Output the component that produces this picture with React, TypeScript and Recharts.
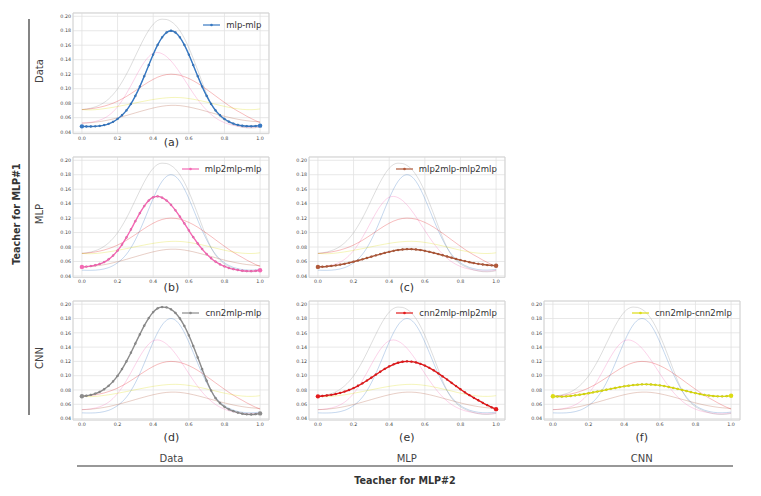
import { LineChart, Line, XAxis, YAxis, CartesianGrid, ReferenceArea } from 'recharts';

const X = [0, 0.025, 0.05, 0.075, 0.1, 0.125, 0.15, 0.175, 0.2, 0.225, 0.25, 0.275, 0.3, 0.325, 0.35, 0.375, 0.4, 0.425, 0.45, 0.475, 0.5, 0.525, 0.55, 0.575, 0.6, 0.625, 0.65, 0.675, 0.7, 0.725, 0.75, 0.775, 0.8, 0.825, 0.85, 0.875, 0.9, 0.925, 0.95, 0.975, 1];

const mlpMlp = [0.0480, 0.0478, 0.0478, 0.0480, 0.0486, 0.0497, 0.0515, 0.0543, 0.0582, 0.0633, 0.0700, 0.0789, 0.0900, 0.1029, 0.1173, 0.1324, 0.1471, 0.1604, 0.1709, 0.1776, 0.1800, 0.1776, 0.1709, 0.1604, 0.1471, 0.1324, 0.1173, 0.1029, 0.0900, 0.0789, 0.0700, 0.0633, 0.0582, 0.0545, 0.0518, 0.0500, 0.0488, 0.0482, 0.0481, 0.0484, 0.0490];
const mlp2mlpMlp = [0.0525, 0.0529, 0.0536, 0.0548, 0.0566, 0.0592, 0.0630, 0.0682, 0.0750, 0.0834, 0.0933, 0.1042, 0.1157, 0.1268, 0.1366, 0.1442, 0.1488, 0.1500, 0.1483, 0.1443, 0.1383, 0.1307, 0.1220, 0.1126, 0.1030, 0.0936, 0.0849, 0.0771, 0.0702, 0.0645, 0.0597, 0.0560, 0.0531, 0.0509, 0.0494, 0.0482, 0.0472, 0.0467, 0.0466, 0.0470, 0.0478];
const mlp2mlpMlp2mlp = [0.0525, 0.0527, 0.0531, 0.0538, 0.0546, 0.0556, 0.0568, 0.0582, 0.0597, 0.0613, 0.0630, 0.0648, 0.0666, 0.0684, 0.0701, 0.0718, 0.0733, 0.0747, 0.0758, 0.0766, 0.0770, 0.0770, 0.0766, 0.0758, 0.0747, 0.0734, 0.0719, 0.0703, 0.0686, 0.0669, 0.0652, 0.0635, 0.0619, 0.0604, 0.0590, 0.0578, 0.0567, 0.0558, 0.0551, 0.0546, 0.0542];
const cnn2mlpMlp = [0.0712, 0.0719, 0.0731, 0.0749, 0.0774, 0.0810, 0.0858, 0.0920, 0.0997, 0.1092, 0.1200, 0.1321, 0.1450, 0.1578, 0.1700, 0.1806, 0.1889, 0.1942, 0.1960, 0.1955, 0.1928, 0.1878, 0.1800, 0.1695, 0.1565, 0.1415, 0.1255, 0.1090, 0.0930, 0.0792, 0.0685, 0.0615, 0.0565, 0.0530, 0.0503, 0.0483, 0.0468, 0.0459, 0.0457, 0.0461, 0.0472];
const cnn2mlpMlp2mlp = [0.0711, 0.0716, 0.0723, 0.0732, 0.0744, 0.0759, 0.0778, 0.0800, 0.0827, 0.0859, 0.0893, 0.0932, 0.0972, 0.1014, 0.1055, 0.1094, 0.1129, 0.1159, 0.1181, 0.1195, 0.1200, 0.1196, 0.1185, 0.1166, 0.1141, 0.1110, 0.1074, 0.1033, 0.0990, 0.0946, 0.0900, 0.0855, 0.0810, 0.0767, 0.0727, 0.0690, 0.0656, 0.0620, 0.0588, 0.0558, 0.0532];
const cnn2mlpCnn2mlp = [0.0712, 0.0708, 0.0707, 0.0710, 0.0716, 0.0724, 0.0733, 0.0743, 0.0754, 0.0766, 0.0778, 0.0790, 0.0803, 0.0816, 0.0828, 0.0840, 0.0851, 0.0860, 0.0868, 0.0874, 0.0878, 0.0879, 0.0877, 0.0872, 0.0864, 0.0854, 0.0842, 0.0829, 0.0815, 0.0800, 0.0785, 0.0770, 0.0756, 0.0743, 0.0731, 0.0722, 0.0715, 0.0711, 0.0710, 0.0713, 0.0720];

const SERIES_NAMES = ['mlp-mlp', 'mlp2mlp-mlp', 'mlp2mlp-mlp2mlp', 'cnn2mlp-mlp', 'cnn2mlp-mlp2mlp', 'cnn2mlp-cnn2mlp'];
const SERIES_VALUES = [mlpMlp, mlp2mlpMlp, mlp2mlpMlp2mlp, cnn2mlpMlp, cnn2mlpMlp2mlp, cnn2mlpCnn2mlp];
const COLORS = ['#3778c2', '#f469b4', '#b0593a', '#8c8c8c', '#e31a1c', '#dcdc14'];

const PANEL_LETTERS = ['a', 'b', 'c', 'd', 'e', 'f'];
const PANEL_ROW = [0, 1, 1, 2, 2, 2];
const PANEL_COL = [0, 0, 1, 0, 1, 2];
const ROW_LABELS = ['Data', 'MLP', 'CNN'];
const COL_LABELS = ['Data', 'MLP', 'CNN'];

const X_TICKS = [0, 0.2, 0.4, 0.6, 0.8, 1];
const Y_TICKS = [0.04, 0.06, 0.08, 0.1, 0.12, 0.14, 0.16, 0.18, 0.2];

const data = X.map((x, i) => {
  const row: Record<string, number> = { x };
  SERIES_VALUES.forEach((s, k) => {
    row['s' + k] = s[i];
  });
  return row;
});

// frame geometry (pixels) of the axes boxes
const FRAME_LEFT = [73.4, 308.8, 543.8];
const FRAME_W = 196;
const FRAME_TOP = [12.5, 156.7, 300.8];
const FRAME_H = [120.6, 120.4, 119];
const LETTER_Y = [142, 287.5, 437];
const ROW_LABEL_Y = [71, 214, 358];

const FONT = "'DejaVu Sans', sans-serif";
const tickStyle = { fontSize: 4.8, fill: '#444', fontFamily: FONT };

const makeDot = (color: string) => (p: any) => {
  const end = p.index === 0 || p.index === X.length - 1;
  return (
    <circle
      key={`d${p.index}`}
      cx={p.cx}
      cy={p.cy}
      r={end ? 2.2 : 1.15}
      fill={color}
      stroke={end ? 'none' : 'rgba(0,0,0,0.18)'}
      strokeWidth={0.4}
    />
  );
};

function Panel({ k }: { k: number }) {
  const r = PANEL_ROW[k];
  const c = PANEL_COL[k];
  const yw = 24;
  const xh = 12;
  const mt = 2;
  const mr = 2;
  const w = FRAME_W + yw + mr;
  const h = FRAME_H[r] + xh + mt;
  return (
    <div style={{ position: 'absolute', left: FRAME_LEFT[c] - yw, top: FRAME_TOP[r] - mt, width: w, height: h }}>
      <LineChart width={w} height={h} data={data} margin={{ top: mt, right: mr, bottom: 0, left: 0 }}>
        <CartesianGrid stroke="#e2e2e2" strokeWidth={0.8} />
        <XAxis
          dataKey="x"
          type="number"
          domain={[-0.05, 1.05]}
          ticks={X_TICKS}
          tickFormatter={(v: number) => v.toFixed(1)}
          tickSize={0}
          tickMargin={2.5}
          axisLine={false}
          tick={tickStyle}
          height={xh}
          interval={0}
          allowDataOverflow
        />
        <YAxis
          type="number"
          domain={[0.038, 0.2045]}
          ticks={Y_TICKS}
          tickFormatter={(v: number) => v.toFixed(2)}
          width={yw}
          tickSize={0}
          tickMargin={2}
          axisLine={false}
          tick={tickStyle}
          interval={0}
          allowDataOverflow
        />
        <ReferenceArea x1={-0.05} x2={1.05} y1={0.038} y2={0.2045} fill="none" stroke="#d2d2d2" strokeWidth={0.9} ifOverflow="visible" />
        {SERIES_NAMES.map((n, j) => (
          <Line
            key={n}
            dataKey={'s' + j}
            type="monotone"
            stroke={COLORS[j]}
            strokeOpacity={0.32}
            strokeWidth={0.9}
            dot={false}
            activeDot={false}
            isAnimationActive={false}
          />
        ))}
        <Line
          key="hl"
          dataKey={'s' + k}
          type="monotone"
          stroke={COLORS[k]}
          strokeWidth={1.4}
          dot={makeDot(COLORS[k])}
          activeDot={false}
          isAnimationActive={false}
        />
      </LineChart>
      <div
        style={{
          position: 'absolute',
          right: mr + 8,
          top: mt + 7.5,
          height: 10,
          display: 'flex',
          alignItems: 'center',
          fontFamily: FONT,
          fontSize: 8.5,
          color: '#333',
          whiteSpace: 'nowrap',
        }}
      >
        <svg width={17} height={6} style={{ marginRight: 6 }}>
          <line x1={0} x2={17} y1={3} y2={3} stroke={COLORS[k]} strokeWidth={1.2} />
          <circle cx={8.5} cy={3} r={1.3} fill={COLORS[k]} />
        </svg>
        <span>{SERIES_NAMES[k]}</span>
      </div>
    </div>
  );
}

export default function App() {
  return (
    <div style={{ position: 'absolute', left: 0, top: 0, width: 761, height: 496, background: '#fff', overflow: 'hidden' }}>
      {SERIES_NAMES.map((n, k) => (
        <Panel key={n} k={k} />
      ))}
      <svg width={761} height={496} style={{ position: 'absolute', left: 0, top: 0, pointerEvents: 'none' }} fontFamily={FONT}>
        {PANEL_LETTERS.map((l, k) => (
          <text
            key={l}
            x={FRAME_LEFT[PANEL_COL[k]] + FRAME_W / 2}
            y={LETTER_Y[PANEL_ROW[k]]}
            textAnchor="middle"
            dominantBaseline="central"
            fontSize={11}
            fill="#333"
          >
            ({l})
          </text>
        ))}
        {ROW_LABELS.map((l, i) => (
          <text
            key={'r' + l}
            x={39}
            y={ROW_LABEL_Y[i]}
            transform={`rotate(-90 39 ${ROW_LABEL_Y[i]})`}
            textAnchor="middle"
            dominantBaseline="central"
            fontSize={10}
            fill="#444"
          >
            {l}
          </text>
        ))}
        {COL_LABELS.map((l, i) => (
          <text
            key={'c' + l}
            x={FRAME_LEFT[i] + FRAME_W / 2}
            y={458}
            textAnchor="middle"
            dominantBaseline="central"
            fontSize={10}
            fill="#444"
          >
            {l}
          </text>
        ))}
        <line x1={29} x2={29} y1={19} y2={415} stroke="#333" strokeWidth={1.2} />
        <line x1={77} x2={733} y1={466} y2={466} stroke="#333" strokeWidth={1.2} />
        <text
          x={16.7}
          y={214}
          transform="rotate(-90 16.7 214)"
          textAnchor="middle"
          dominantBaseline="central"
          fontSize={9.6}
          fontWeight="bold"
          fill="#333"
        >
          Teacher for MLP#1
        </text>
        <text x={405} y={480} textAnchor="middle" dominantBaseline="central" fontSize={9.6} fontWeight="bold" fill="#333">
          Teacher for MLP#2
        </text>
      </svg>
    </div>
  );
}
